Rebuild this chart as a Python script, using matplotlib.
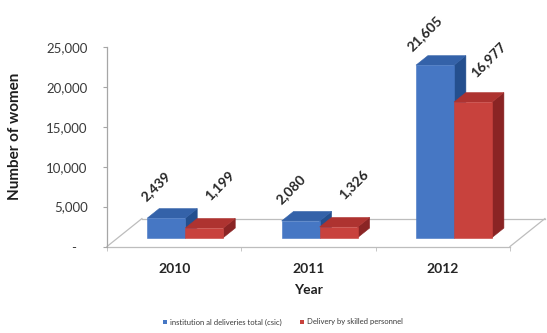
import matplotlib
matplotlib.use("Agg")
import matplotlib.pyplot as plt
from matplotlib.patches import Polygon, Patch

# ---- data ----
years = ["2010", "2011", "2012"]
institutional = [2439, 2080, 21605]
skilled = [1199, 1326, 16977]
series_names = ["institution al deliveries total (csic)", "Delivery by skilled personnel"]
y_ticks = [0, 5000, 10000, 15000, 20000, 25000]
y_tick_labels = ["-   ", "5,000", "10,000", "15,000", "20,000", "25,000"]

# ---- style ----
plt.rcParams["font.family"] = ["Lato", "DejaVu Sans"]
FRONT = ["#4677C4", "#C8423D"]
TOP = ["#3462A9", "#AE3330"]
SIDE = ["#244F8E", "#8A2424"]
GRID = "#BDBDBD"
TEXT = "#3A3A3A"

W, H = 547, 333
fig = plt.figure(figsize=(W / 100, H / 100), dpi=100)
ax = fig.add_axes([107 / W, 86.5 / H, 403 / W, 199.5 / H])
ax.set_xlim(0, len(years))
ax.set_ylim(0, 25000)

# oblique depth of the floor (x in category units, y in value units)
DX, DY = 0.26, 3500.0
D0, D1 = 0.32, 0.66          # bar front / back depth fraction
BW = 0.283                   # bar width in category units


def add_poly(pts, color, z):
    ax.add_patch(Polygon(pts, closed=True, facecolor=color, edgecolor=color,
                         linewidth=0.4, zorder=z, clip_on=False))


def bar3d(x0, v, k, z):
    fx, fy = D0 * DX, D0 * DY
    bx, by = D1 * DX, D1 * DY
    front = [(x0 + fx, fy), (x0 + BW + fx, fy), (x0 + BW + fx, v + fy), (x0 + fx, v + fy)]
    top = [(x0 + fx, v + fy), (x0 + BW + fx, v + fy), (x0 + BW + bx, v + by), (x0 + bx, v + by)]
    side = [(x0 + BW + fx, fy), (x0 + BW + bx, by), (x0 + BW + bx, v + by), (x0 + BW + fx, v + fy)]
    add_poly(side, SIDE[k], z)
    add_poly(top, TOP[k], z)
    add_poly(front, FRONT[k], z)


# floor outline
n = len(years)
floor_lines = [[(0, 0), (n, 0)], [(n, 0), (n + DX, DY)], [(DX, DY), (n + DX, DY)], [(0, 0), (DX, DY)]]
for seg in floor_lines:
    xs, ys = zip(*seg)
    ax.plot(xs, ys, color=GRID, lw=0.9, zorder=1, clip_on=False)

# bars and value labels
label_offsets = [(0.7, 16.0), (19.0, 24.0)]
z = 2
for i, (a, b) in enumerate(zip(institutional, skilled)):
    c = i + 0.5
    for k, (x0, v) in enumerate([(c - BW, a), (c, b)]):
        bar3d(x0, v, k, z)
        z += 1
        ax.annotate(f"{v:,}", xy=(x0 + BW / 2, v + D1 * DY),
                    xytext=label_offsets[k], textcoords="offset points",
                    rotation=45, ha="center", va="center", fontsize=10,
                    fontweight="bold", color="#262626", zorder=20,
                    annotation_clip=False)

# axes cosmetics
for s in ["top", "right", "bottom"]:
    ax.spines[s].set_visible(False)
ax.spines["left"].set_color("#A6A6A6")
ax.spines["left"].set_linewidth(0.9)
ax.set_yticks(y_ticks)
ax.set_yticklabels(y_tick_labels)
ax.tick_params(axis="y", direction="out", length=3, color="#A6A6A6", pad=11,
               labelsize=9.5, labelcolor=TEXT)
ax.set_xticks([i + 0.5 for i in range(n)])
ax.set_xticklabels(years)
ax.set_xticks(range(n + 1), minor=True)
ax.tick_params(axis="x", which="major", length=0, pad=12, labelsize=10, labelcolor="#262626")
ax.tick_params(axis="x", which="minor", direction="out", length=3, color=GRID)
for t in ax.get_xticklabels():
    t.set_fontweight("bold")
ax.patch.set_alpha(0)

ax.set_ylabel("Number of women", fontsize=11, fontweight="bold", color="#1E1E1E", labelpad=10)
ax.yaxis.set_label_coords(-85 / 403, 0.55)
fig.text(308 / W, 1 - 290 / H, "Year", ha="center", va="center", fontsize=10,
         fontweight="bold", color="#1E1E1E")

handles = [Patch(facecolor=FRONT[0]), Patch(facecolor=FRONT[1])]
leg = fig.legend(handles, series_names, loc="center", bbox_to_anchor=(283 / W, 1 - 322 / H),
                 ncol=2, frameon=False, fontsize=5.5, handlelength=0.5, handleheight=0.5,
                 handletextpad=0.4, columnspacing=2.5)
for t in leg.get_texts():
    t.set_color(TEXT)

fig.savefig("out.png", dpi=100, facecolor="white")
